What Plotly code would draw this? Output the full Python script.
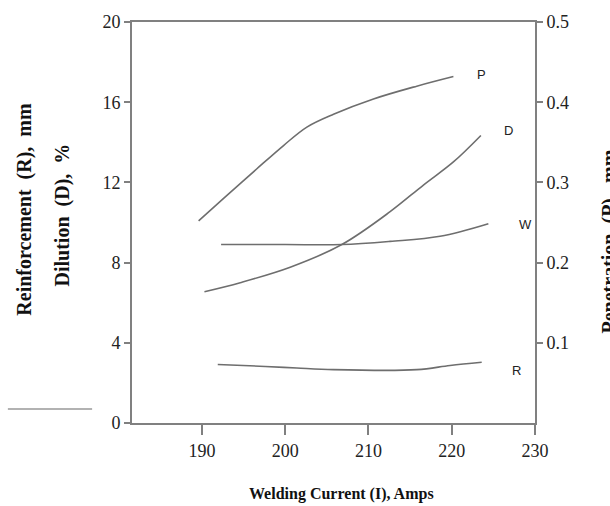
import plotly.graph_objects as go

# Data
current_P = [189.6, 192.6, 196.6, 199.8, 202.6, 205.8, 210.6, 215.8, 220.2]
penetration = [0.252, 0.280, 0.317, 0.346, 0.369, 0.385, 0.404, 0.420, 0.432]

current_D = [190.3, 194.6, 200.6, 206.8, 212.6, 216.6, 220.2, 223.5]
dilution = [6.55, 7.0, 7.77, 8.90, 10.54, 11.87, 13.02, 14.34]

current_W = [192.3, 200.0, 206.8, 212.6, 218.6, 224.4]
width_W = [8.90, 8.90, 8.90, 9.06, 9.31, 9.94]

current_R = [191.9, 197.6, 201.4, 205.8, 215.8, 219.8, 223.6]
reinforcement = [2.92, 2.82, 2.74, 2.66, 2.66, 2.87, 3.03]

x_ticks = [190, 200, 210, 220, 230]
left_ticks = [0, 4, 8, 12, 16, 20]
right_ticks = [0.1, 0.2, 0.3, 0.4, 0.5]

curve_labels = ["P", "D", "W", "R"]
label_x = [223.6, 226.8, 228.8, 227.8]
label_y = [17.4, 14.6, 9.9, 2.62]

line_col = "#6e6e6e"
frame_col = "#808080"
serif = "Liberation Serif, Times New Roman, serif"

fig = go.Figure()
fig.add_trace(go.Scatter(x=current_P, y=penetration, mode="lines", yaxis="y2",
                         line=dict(color=line_col, width=1.6, shape="spline"), showlegend=False))
fig.add_trace(go.Scatter(x=current_D, y=dilution, mode="lines",
                         line=dict(color=line_col, width=1.6, shape="spline"), showlegend=False))
fig.add_trace(go.Scatter(x=current_W, y=width_W, mode="lines",
                         line=dict(color=line_col, width=1.6, shape="spline"), showlegend=False))
fig.add_trace(go.Scatter(x=current_R, y=reinforcement, mode="lines",
                         line=dict(color=line_col, width=1.6, shape="spline"), showlegend=False))

for t, lx, ly in zip(curve_labels, label_x, label_y):
    fig.add_annotation(x=lx, y=ly, xref="x", yref="y", text=t, showarrow=False,
                       xanchor="center", yanchor="middle",
                       font=dict(family="Liberation Sans, Arial, sans-serif", size=13, color="#222"))

title_font = dict(family=serif, size=20, color="#111")
fig.add_annotation(x=-0.2655, y=0.532, xref="paper", yref="paper", textangle=-90,
                   xanchor="center", yanchor="middle",
                   text="<b>Reinforcement  (R),  mm</b>", showarrow=False, font=title_font)
fig.add_annotation(x=-0.1737, y=0.52, xref="paper", yref="paper", textangle=-90,
                   xanchor="center", yanchor="middle",
                   text="<b>Dilution  (D),  %</b>", showarrow=False, font=title_font)
fig.add_annotation(x=1.184, y=0.453, xref="paper", yref="paper", textangle=-90,
                   xanchor="center", yanchor="middle",
                   text="<b>Penetration  (P),  mm</b>", showarrow=False, font=title_font)
fig.add_annotation(x=0.521, y=-0.178, xref="paper", yref="paper",
                   xanchor="center", yanchor="middle",
                   text="<b>Welding Current (I), Amps</b>", showarrow=False,
                   font=dict(family=serif, size=16, color="#111"))

fig.add_shape(type="line", xref="paper", yref="paper", x0=-0.308, x1=-0.099, y0=0.035, y1=0.035,
              line=dict(color="#999", width=1.5))

fig.update_layout(
    width=610, height=506,
    margin=dict(l=132, r=75, t=19, b=83),
    paper_bgcolor="white", plot_bgcolor="white",
    xaxis=dict(range=[181.6, 230], tickvals=x_ticks, showgrid=False, zeroline=False,
               showline=True, linecolor=frame_col, linewidth=2, mirror=True,
               ticks="outside", ticklen=10, tickcolor=frame_col, tickwidth=1.5,
               tickfont=dict(family=serif, size=18, color="#222")),
    yaxis=dict(range=[0, 20], tickvals=left_ticks, showgrid=False, zeroline=False,
               showline=True, linecolor=frame_col, linewidth=2,
               ticks="outside", ticklen=6, tickcolor=frame_col, tickwidth=1.5,
               tickfont=dict(family=serif, size=18, color="#222")),
    yaxis2=dict(range=[0, 0.5], tickvals=right_ticks, overlaying="y", side="right",
                showgrid=False, zeroline=False, tickformat=".1f",
                showline=True, linecolor=frame_col, linewidth=2,
                ticks="outside", ticklen=6, tickcolor=frame_col, tickwidth=1.5,
                tickfont=dict(family=serif, size=18, color="#222")),
)

fig.write_html("out.html", config={"displayModeBar": False},
               post_script="document.body.style.margin='0';document.body.style.overflow='hidden';")
